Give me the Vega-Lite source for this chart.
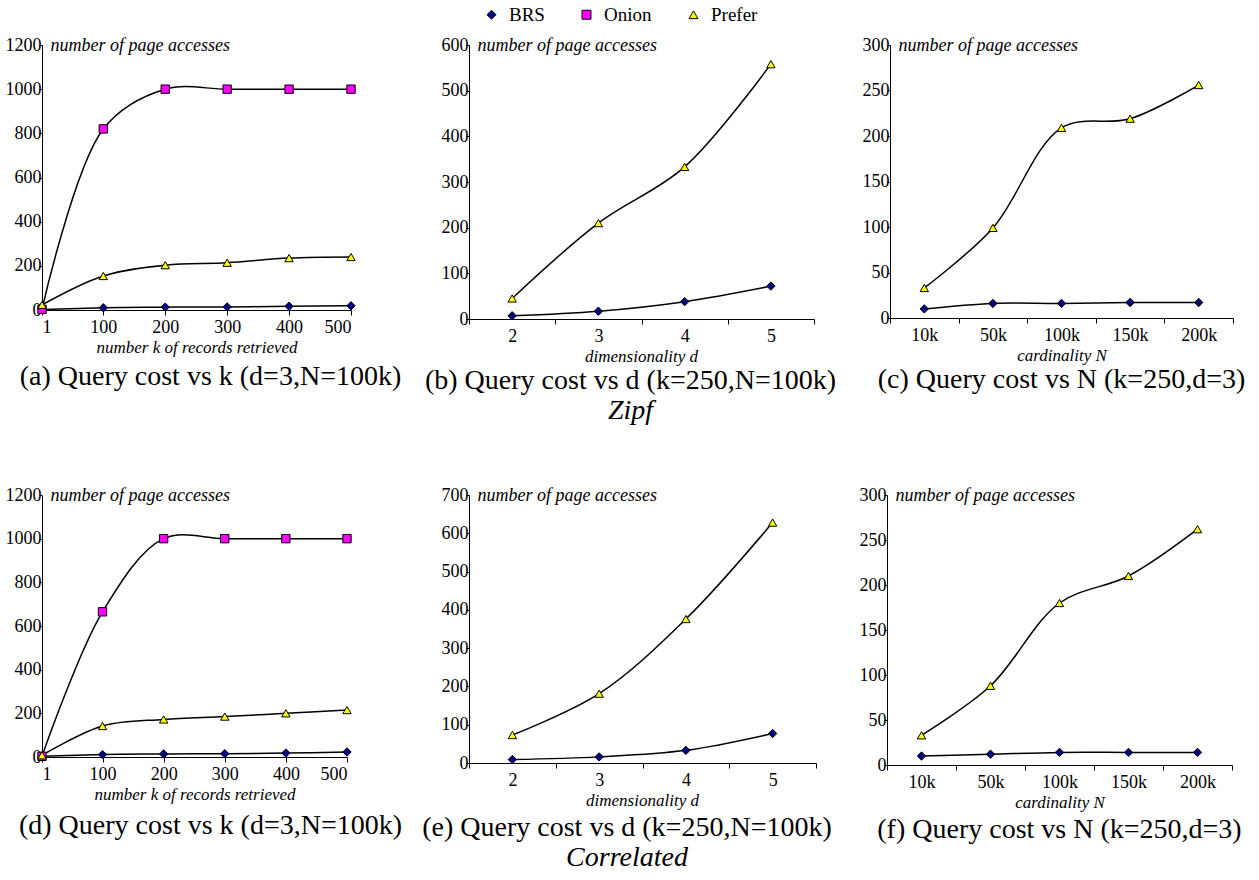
{
"$schema": "https://vega.github.io/schema/vega-lite/v6.json",
"background": "white",
"padding": {"left": 5, "top": 5, "right": 5, "bottom": 5},
"config": {
  "font": "Liberation Serif",
  "view": {"stroke": null},
  "axis": {"grid": false, "domainColor": "black", "tickColor": "black", "labelColor": "black", "labelFont": "Liberation Serif", "labelFontSize": 18, "titleFont": "Liberation Serif", "titleFontStyle": "italic", "titleFontWeight": "normal", "titleFontSize": 17, "titleColor": "black", "tickSize": 5, "labelPadding": 3, "titlePadding": 3},
  "axisY": {"titleAngle": 0, "titleAlign": "left", "titleBaseline": "middle", "titleX": 8, "titleY": 0, "titleFontSize": 18, "tickSize": 3, "labelPadding": -2, "format": "d"},
  "axisX": {"labelAngle": 0},
  "title": {"font": "Liberation Serif", "fontSize": 28, "fontWeight": "normal", "color": "black", "orient": "bottom", "offset": 3, "subtitleFont": "Liberation Serif", "subtitleFontSize": 28, "subtitleFontStyle": "italic", "subtitleColor": "black", "subtitlePadding": 2},
  "legend": {"orient": "none", "legendX": 440, "legendY": -40, "direction": "horizontal", "labelFont": "Liberation Serif", "labelFontSize": 19, "labelColor": "black", "labelOffset": 8, "symbolStrokeWidth": 1, "symbolSize": 80, "columnPadding": 32}
},
"datasets": {"d": [
  {"p":"a","s":"BRS","x":1,"v":2},{"p":"a","s":"BRS","x":100,"v":10},{"p":"a","s":"BRS","x":200,"v":13},{"p":"a","s":"BRS","x":300,"v":14},{"p":"a","s":"BRS","x":400,"v":17},{"p":"a","s":"BRS","x":500,"v":19},
  {"p":"a","s":"Onion","x":1,"v":3},{"p":"a","s":"Onion","x":100,"v":820},{"p":"a","s":"Onion","x":200,"v":1000},{"p":"a","s":"Onion","x":300,"v":1000},{"p":"a","s":"Onion","x":400,"v":1000},{"p":"a","s":"Onion","x":500,"v":1000},
  {"p":"a","s":"Prefer","x":1,"v":23},{"p":"a","s":"Prefer","x":100,"v":154},{"p":"a","s":"Prefer","x":200,"v":203},{"p":"a","s":"Prefer","x":300,"v":214},{"p":"a","s":"Prefer","x":400,"v":235},{"p":"a","s":"Prefer","x":500,"v":240},
  {"p":"b","s":"BRS","x":2,"v":7},{"p":"b","s":"BRS","x":3,"v":17},{"p":"b","s":"BRS","x":4,"v":38},{"p":"b","s":"BRS","x":5,"v":72},
  {"p":"b","s":"Prefer","x":2,"v":45},{"p":"b","s":"Prefer","x":3,"v":210},{"p":"b","s":"Prefer","x":4,"v":333},{"p":"b","s":"Prefer","x":5,"v":558},
  {"p":"c","s":"BRS","n":"10k","v":10},{"p":"c","s":"BRS","n":"50k","v":16},{"p":"c","s":"BRS","n":"100k","v":16},{"p":"c","s":"BRS","n":"150k","v":17},{"p":"c","s":"BRS","n":"200k","v":17},
  {"p":"c","s":"Prefer","n":"10k","v":33},{"p":"c","s":"Prefer","n":"50k","v":99},{"p":"c","s":"Prefer","n":"100k","v":209},{"p":"c","s":"Prefer","n":"150k","v":219},{"p":"c","s":"Prefer","n":"200k","v":256},
  {"p":"d","s":"BRS","x":1,"v":3},{"p":"d","s":"BRS","x":100,"v":11},{"p":"d","s":"BRS","x":200,"v":14},{"p":"d","s":"BRS","x":300,"v":15},{"p":"d","s":"BRS","x":400,"v":18},{"p":"d","s":"BRS","x":500,"v":23},
  {"p":"d","s":"Onion","x":1,"v":3},{"p":"d","s":"Onion","x":100,"v":665},{"p":"d","s":"Onion","x":200,"v":1000},{"p":"d","s":"Onion","x":300,"v":1000},{"p":"d","s":"Onion","x":400,"v":1000},{"p":"d","s":"Onion","x":500,"v":1000},
  {"p":"d","s":"Prefer","x":1,"v":8},{"p":"d","s":"Prefer","x":100,"v":142},{"p":"d","s":"Prefer","x":200,"v":172},{"p":"d","s":"Prefer","x":300,"v":185},{"p":"d","s":"Prefer","x":400,"v":200},{"p":"d","s":"Prefer","x":500,"v":215},
  {"p":"e","s":"BRS","x":2,"v":9},{"p":"e","s":"BRS","x":3,"v":16},{"p":"e","s":"BRS","x":4,"v":33},{"p":"e","s":"BRS","x":5,"v":77},
  {"p":"e","s":"Prefer","x":2,"v":73},{"p":"e","s":"Prefer","x":3,"v":181},{"p":"e","s":"Prefer","x":4,"v":376},{"p":"e","s":"Prefer","x":5,"v":628},
  {"p":"f","s":"BRS","n":"10k","v":10},{"p":"f","s":"BRS","n":"50k","v":12},{"p":"f","s":"BRS","n":"100k","v":14},{"p":"f","s":"BRS","n":"150k","v":14},{"p":"f","s":"BRS","n":"200k","v":14},
  {"p":"f","s":"Prefer","n":"10k","v":33},{"p":"f","s":"Prefer","n":"50k","v":88},{"p":"f","s":"Prefer","n":"100k","v":180},{"p":"f","s":"Prefer","n":"150k","v":210},{"p":"f","s":"Prefer","n":"200k","v":262}
]},
"bounds": "flush",
"spacing": 450,
"vconcat": [
 {"bounds": "flush", "spacing": 76,
  "hconcat": [
    {"width": 309, "height": 265, "data": {"name": "d"}, "transform": [{"filter": "datum.p=='a'"}],
     "title": {"text": "(a) Query cost vs k (d=3,N=100k)", "dx": 14, "offset": 8},
     "encoding": {
      "x": {"field": "x", "type": "quantitative", "scale": {"domain": [1, 500], "nice": false, "zero": false}, "axis": {"values": [1,100,200,300,400,500], "title": "number k of records retrieved"}},
      "y": {"field": "v", "type": "quantitative", "scale": {"domain": [0, 1200], "nice": false}, "axis": {"values": [0,200,400,600,800,1000,1200], "title": "number of page accesses"}}},
     "layer": [
      {"mark": {"type": "line", "interpolate": "catmull-rom", "color": "black", "strokeWidth": 1.5}, "encoding": {"detail": {"field": "s"}}},
      {"mark": {"type": "point", "filled": true, "strokeWidth": 1, "size": 70, "opacity": 1},
       "encoding": {"shape": {"field": "s", "title": null, "scale": {"domain": ["BRS","Onion","Prefer"], "range": ["diamond","square","triangle-up"]}},
                    "fill": {"field": "s", "title": null, "scale": {"domain": ["BRS","Onion","Prefer"], "range": ["#000080","#FF00FF","#FFFF00"]}},
                    "stroke": {"field": "s", "title": null, "scale": {"domain": ["BRS","Onion","Prefer"], "range": ["black","black","black"]}}}}
     ]},
    {"width": 387, "height": 274, "data": {"name": "d"}, "transform": [{"filter": "datum.p=='b'"}],
     "title": {"text": "(b) Query cost vs d (k=250,N=100k)", "subtitle": "Zipf", "dx": 10},
     "encoding": {
      "x": {"field": "x", "type": "ordinal", "scale": {"type": "band", "paddingInner": 0, "paddingOuter": 0, "range": [42, 387]}, "axis": {"tickBand": "extent", "title": "dimensionality d", "titleX": 214}},
      "y": {"field": "v", "type": "quantitative", "scale": {"domain": [0, 600], "nice": false}, "axis": {"values": [0,100,200,300,400,500,600], "title": "number of page accesses", "offset": -42}}},
     "layer": [
      {"mark": {"type": "line", "interpolate": "catmull-rom", "color": "black", "strokeWidth": 1.5}, "encoding": {"detail": {"field": "s"}}},
      {"mark": {"type": "point", "filled": true, "strokeWidth": 1, "size": 70, "opacity": 1},
       "encoding": {"shape": {"field": "s", "title": null, "scale": {"domain": ["BRS","Onion","Prefer"], "range": ["diamond","square","triangle-up"]}},
                    "fill": {"field": "s", "title": null, "scale": {"domain": ["BRS","Onion","Prefer"], "range": ["#000080","#FF00FF","#FFFF00"]}},
                    "stroke": {"field": "s", "title": null, "scale": {"domain": ["BRS","Onion","Prefer"], "range": ["black","black","black"]}}}}
     ]},
   {"width": 343, "height": 273, "data": {"name": "d"}, "transform": [{"filter": "datum.p=='c'"}],
    "title": {"text": "(c) Query cost vs N (k=250,d=3)"},
    "encoding": {
     "x": {"field": "n", "type": "ordinal", "sort": ["10k","50k","100k","150k","200k"], "scale": {"type": "band", "paddingInner": 0, "paddingOuter": 0}, "axis": {"tickBand": "extent", "title": "cardinality N"}},
     "y": {"field": "v", "type": "quantitative", "scale": {"domain": [0, 300], "nice": false}, "axis": {"values": [0,50,100,150,200,250,300], "title": "number of page accesses"}}},
    "layer": [
     {"mark": {"type": "line", "interpolate": "catmull-rom", "color": "black", "strokeWidth": 1.5}, "encoding": {"detail": {"field": "s"}}},
     {"mark": {"type": "point", "filled": true, "strokeWidth": 1, "size": 70, "opacity": 1},
      "encoding": {"shape": {"field": "s", "title": null, "scale": {"domain": ["BRS","Onion","Prefer"], "range": ["diamond","square","triangle-up"]}},
                   "fill": {"field": "s", "title": null, "scale": {"domain": ["BRS","Onion","Prefer"], "range": ["#000080","#FF00FF","#FFFF00"]}},
                   "stroke": {"field": "s", "title": null, "scale": {"domain": ["BRS","Onion","Prefer"], "range": ["black","black","black"]}}}}
    ]}
  ]},
 {"bounds": "flush", "spacing": 71,
  "hconcat": [
    {"width": 305, "height": 262, "data": {"name": "d"}, "transform": [{"filter": "datum.p=='d'"}],
     "title": {"text": "(d) Query cost vs k (d=3,N=100k)", "dx": 16, "offset": 10},
     "encoding": {
      "x": {"field": "x", "type": "quantitative", "scale": {"domain": [1, 500], "nice": false, "zero": false}, "axis": {"values": [1,100,200,300,400,500], "title": "number k of records retrieved"}},
      "y": {"field": "v", "type": "quantitative", "scale": {"domain": [0, 1200], "nice": false}, "axis": {"values": [0,200,400,600,800,1000,1200], "title": "number of page accesses"}}},
     "layer": [
      {"mark": {"type": "line", "interpolate": "catmull-rom", "color": "black", "strokeWidth": 1.5}, "encoding": {"detail": {"field": "s"}}},
      {"mark": {"type": "point", "filled": true, "strokeWidth": 1, "size": 70, "opacity": 1},
       "encoding": {"shape": {"field": "s", "title": null, "scale": {"domain": ["BRS","Onion","Prefer"], "range": ["diamond","square","triangle-up"]}},
                    "fill": {"field": "s", "title": null, "scale": {"domain": ["BRS","Onion","Prefer"], "range": ["#000080","#FF00FF","#FFFF00"]}},
                    "stroke": {"field": "s", "title": null, "scale": {"domain": ["BRS","Onion","Prefer"], "range": ["black","black","black"]}}}}
     ]},
    {"width": 398, "height": 268, "data": {"name": "d"}, "transform": [{"filter": "datum.p=='e'"}],
     "title": {"text": "(e) Query cost vs d (k=250,N=100k)", "subtitle": "Correlated", "dx": 10, "offset": 6},
     "encoding": {
      "x": {"field": "x", "type": "ordinal", "scale": {"type": "band", "paddingInner": 0, "paddingOuter": 0, "range": [51, 398]}, "axis": {"tickBand": "extent", "title": "dimensionality d", "titleX": 224}},
      "y": {"field": "v", "type": "quantitative", "scale": {"domain": [0, 700], "nice": false}, "axis": {"values": [0,100,200,300,400,500,600,700], "title": "number of page accesses", "offset": -51}}},
     "layer": [
      {"mark": {"type": "line", "interpolate": "catmull-rom", "color": "black", "strokeWidth": 1.5}, "encoding": {"detail": {"field": "s"}}},
      {"mark": {"type": "point", "filled": true, "strokeWidth": 1, "size": 70, "opacity": 1},
       "encoding": {"shape": {"field": "s", "title": null, "scale": {"domain": ["BRS","Onion","Prefer"], "range": ["diamond","square","triangle-up"]}},
                    "fill": {"field": "s", "title": null, "scale": {"domain": ["BRS","Onion","Prefer"], "range": ["#000080","#FF00FF","#FFFF00"]}},
                    "stroke": {"field": "s", "title": null, "scale": {"domain": ["BRS","Onion","Prefer"], "range": ["black","black","black"]}}}}
     ]},
   {"width": 345, "height": 270, "data": {"name": "d"}, "transform": [{"filter": "datum.p=='f'"}],
    "title": {"text": "(f) Query cost vs N (k=250,d=3)", "offset": 6},
    "encoding": {
     "x": {"field": "n", "type": "ordinal", "sort": ["10k","50k","100k","150k","200k"], "scale": {"type": "band", "paddingInner": 0, "paddingOuter": 0}, "axis": {"tickBand": "extent", "title": "cardinality N"}},
     "y": {"field": "v", "type": "quantitative", "scale": {"domain": [0, 300], "nice": false}, "axis": {"values": [0,50,100,150,200,250,300], "title": "number of page accesses"}}},
    "layer": [
     {"mark": {"type": "line", "interpolate": "catmull-rom", "color": "black", "strokeWidth": 1.5}, "encoding": {"detail": {"field": "s"}}},
     {"mark": {"type": "point", "filled": true, "strokeWidth": 1, "size": 70, "opacity": 1},
      "encoding": {"shape": {"field": "s", "title": null, "scale": {"domain": ["BRS","Onion","Prefer"], "range": ["diamond","square","triangle-up"]}},
                   "fill": {"field": "s", "title": null, "scale": {"domain": ["BRS","Onion","Prefer"], "range": ["#000080","#FF00FF","#FFFF00"]}},
                   "stroke": {"field": "s", "title": null, "scale": {"domain": ["BRS","Onion","Prefer"], "range": ["black","black","black"]}}}}
    ]}
  ]}
]
}
